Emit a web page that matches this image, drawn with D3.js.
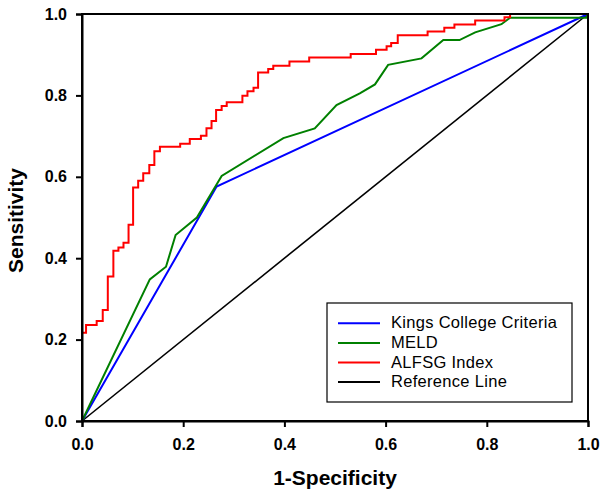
<!DOCTYPE html>
<html>
<head>
<meta charset="utf-8">
<script src="https://cdn.jsdelivr.net/npm/d3@7/dist/d3.min.js"></script>
<style>
  html, body { margin: 0; padding: 0; background: #fff; }
  svg { display: block; }
</style>
</head>
<body>
<svg id="chart" width="606" height="496"></svg>
<script>
// ---- Data ----
const ticks = [0.0, 0.2, 0.4, 0.6, 0.8, 1.0];

const kingsFPR = [0, 0.266, 1];
const kingsTPR = [0, 0.576, 1];

const meldFPR = [0, 0.134, 0.166, 0.185, 0.227, 0.276, 0.398, 0.460, 0.503, 0.549, 0.579, 0.605, 0.671, 0.714, 0.746, 0.777, 0.829, 0.846, 0.997, 1];
const meldTPR = [0, 0.348, 0.379, 0.457, 0.500, 0.602, 0.695, 0.719, 0.776, 0.805, 0.827, 0.875, 0.891, 0.936, 0.936, 0.955, 0.975, 0.991, 0.991, 1];

// ALFSG staircase (step after each point)
const alfsgFPR = [0, 0, 0.008, 0.029, 0.041, 0.051, 0.062, 0.072, 0.082, 0.092, 0.101, 0.111, 0.121, 0.133, 0.143, 0.154, 0.194, 0.213, 0.235, 0.246, 0.256, 0.265, 0.276, 0.286, 0.317, 0.327, 0.339, 0.348, 0.368, 0.378, 0.410, 0.449, 0.531, 0.581, 0.602, 0.611, 0.624, 0.683, 0.716, 0.736, 0.777, 0.835, 0.846, 1];
const alfsgTPR = [0, 0.217, 0.236, 0.246, 0.273, 0.355, 0.418, 0.426, 0.438, 0.482, 0.574, 0.590, 0.609, 0.629, 0.663, 0.674, 0.681, 0.693, 0.701, 0.719, 0.737, 0.764, 0.774, 0.783, 0.799, 0.810, 0.819, 0.856, 0.865, 0.873, 0.883, 0.893, 0.902, 0.912, 0.921, 0.929, 0.948, 0.957, 0.966, 0.974, 0.984, 0.992, 1.0, 1.0];

const refFPR = [0, 1];
const refTPR = [0, 1];

const seriesNames = ["Kings College Criteria", "MELD", "ALFSG Index", "Reference Line"];
const seriesColors = ["#0000ff", "#008000", "#ff0000", "#000000"];

// ---- Layout ----
const svg = d3.select("#chart");
const mLeft = 82, mRight = 588, mTop = 14, mBottom = 421;
const FONT = "Arial, 'Liberation Sans', sans-serif";

const x = d3.scaleLinear().domain([0, 1]).range([mLeft, mRight]);
const y = d3.scaleLinear().domain([0, 1]).range([mBottom, mTop]);

const zip = (a, b) => a.map((v, i) => [v, b[i]]);

const line = d3.line().x(d => x(d[0])).y(d => y(d[1]));
const stepLine = d3.line().x(d => x(d[0])).y(d => y(d[1])).curve(d3.curveStepAfter);

// Reference line
svg.append("path").datum(zip(refFPR, refTPR))
  .attr("d", line).attr("fill", "none")
  .attr("stroke", seriesColors[3]).attr("stroke-width", 1.6);

// Kings
svg.append("path").datum(zip(kingsFPR, kingsTPR))
  .attr("d", line).attr("fill", "none")
  .attr("stroke", seriesColors[0]).attr("stroke-width", 2);

// MELD
svg.append("path").datum(zip(meldFPR, meldTPR))
  .attr("d", line).attr("fill", "none")
  .attr("stroke", seriesColors[1]).attr("stroke-width", 2);

// ALFSG
svg.append("path").datum(zip(alfsgFPR, alfsgTPR))
  .attr("d", stepLine).attr("fill", "none")
  .attr("stroke", seriesColors[2]).attr("stroke-width", 2);

// Frame
svg.append("rect")
  .attr("x", mLeft).attr("y", mTop)
  .attr("width", mRight - mLeft).attr("height", mBottom - mTop)
  .attr("fill", "none").attr("stroke", "#000").attr("stroke-width", 2);

// Axes
const fmt = d3.format(".1f");
const xAxis = d3.axisBottom(x).tickValues(ticks).tickFormat(fmt).tickSize(6).tickPadding(12);
const yAxis = d3.axisLeft(y).tickValues(ticks).tickFormat(fmt).tickSize(6).tickPadding(9);

const gx = svg.append("g").attr("transform", `translate(0,${mBottom})`).call(xAxis);
const gy = svg.append("g").attr("transform", `translate(${mLeft},0)`).call(yAxis);

[gx, gy].forEach(g => {
  g.select(".domain").attr("stroke", "#000").attr("stroke-width", 2);
  g.selectAll(".tick line").attr("stroke", "#000").attr("stroke-width", 2);
  g.selectAll(".tick text")
    .attr("fill", "#000")
    .style("font-family", FONT)
    .style("font-weight", "bold")
    .style("font-size", "16px");
});

// Axis titles
svg.append("text")
  .attr("x", (mLeft + mRight) / 2).attr("y", 485)
  .attr("text-anchor", "middle")
  .style("font-family", FONT)
  .style("font-weight", "bold").style("font-size", "21px")
  .text("1-Specificity");

svg.append("text")
  .attr("transform", `translate(23,${(mTop + mBottom) / 2 + 3}) rotate(-90)`)
  .attr("text-anchor", "middle")
  .style("font-family", FONT)
  .style("font-weight", "bold").style("font-size", "21px")
  .text("Sensitivity");

// Legend
const lg = svg.append("g");
lg.append("rect")
  .attr("x", 327).attr("y", 303).attr("width", 245).attr("height", 99)
  .attr("fill", "#fff").attr("stroke", "#000").attr("stroke-width", 1.2);

seriesNames.forEach((name, i) => {
  const cy = 323.3 + i * 19.6;
  lg.append("line")
    .attr("x1", 338).attr("x2", 380).attr("y1", cy).attr("y2", cy)
    .attr("stroke", seriesColors[i]).attr("stroke-width", 2);
  lg.append("text")
    .attr("x", 391).attr("y", cy + 5)
    .style("font-family", FONT)
    .style("font-size", "16.5px")
    .style("letter-spacing", "0.3px")
    .text(name);
});
</script>
</body>
</html>
